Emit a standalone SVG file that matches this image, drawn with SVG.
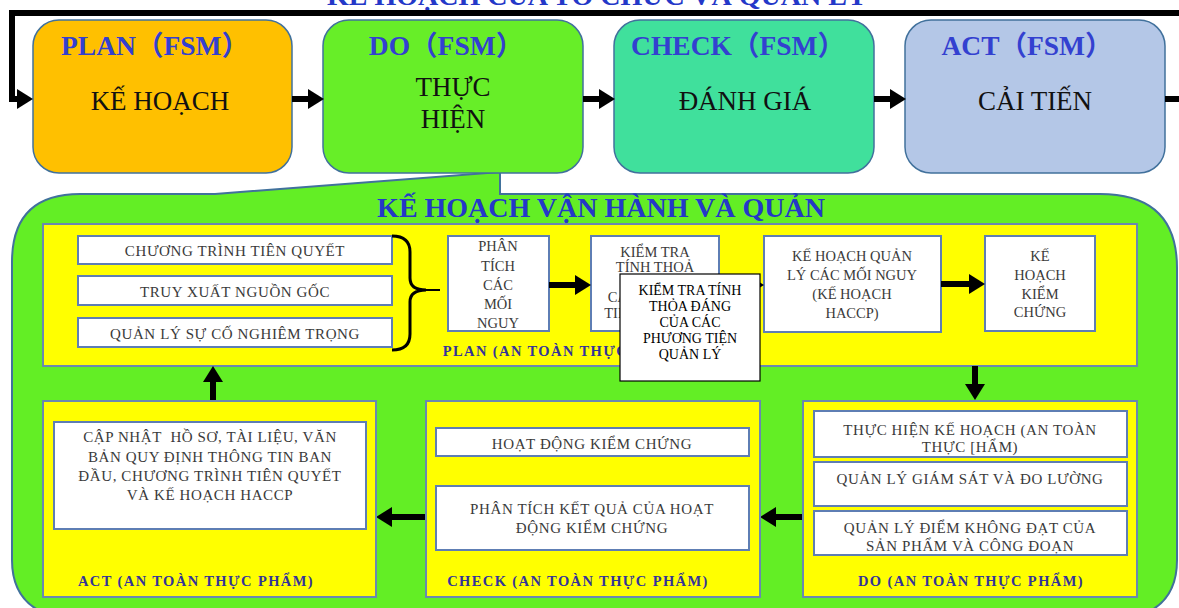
<svg xmlns="http://www.w3.org/2000/svg" width="1179" height="608" viewBox="0 0 1179 608">
<style>
text{font-family:'Liberation Serif','Noto Sans CJK SC',serif;text-anchor:middle}
.fsm{font-size:27.5px;font-weight:bold;fill:#3340D0}
.big{font-size:27px;fill:#111}
.ttl{font-size:28px;font-weight:bold;fill:#2438C8}
.wt{font-size:15px;fill:#3a3a3a;letter-spacing:0.6px}
.sm{font-size:14.5px;fill:#3a3a3a}
.lbl{font-size:14.5px;font-weight:bold;fill:#33339A;letter-spacing:1.4px}
.ov{font-size:14px;fill:#000}
.top{stroke:#41719C;stroke-width:1.5}
.panel{fill:#FFFF00;stroke:#6A88B0;stroke-width:2}
.wb{fill:#fff;stroke:#5E7EB4;stroke-width:2}
.ln{stroke:#000;stroke-width:6;fill:none}
</style>
<defs>
<marker id="ah" markerUnits="userSpaceOnUse" markerWidth="16" markerHeight="20" refX="0" refY="10" orient="auto">
<path d="M0,0 L16,10 L0,20 Z" fill="#000"/>
</marker>
</defs>
<rect width="1179" height="608" fill="#fff"/>
<text class="ttl" x="597" y="5">KẾ HOẠCH CỦA TỔ CHỨC VÀ QUẢN LÝ</text>

<g id="callout">
<path d="M215,194 L500,172 L500,194 L1100,194 Q1177,194 1177,268 L1177,560 Q1177,598 1148,612 L42,612 Q12,598 12,560 L12,262 Q12,194 80,194 Z" fill="#63EE25" stroke="#41719C" stroke-width="2"/>
<text class="ttl" x="601" y="217">KẾ HOẠCH VẬN HÀNH VÀ QUẢN</text>
</g>

<g id="plan-fsm">
<rect class="top" x="33" y="20" width="259" height="153" rx="26" fill="#FFC000"/>
<text class="fsm" x="155" y="55">PLAN（FSM）</text>
<text class="big" x="160" y="110">KẾ HOẠCH</text>
</g>
<g id="do-fsm">
<rect class="top" x="323" y="20" width="260" height="153" rx="26" fill="#67EE28"/>
<text class="fsm" x="446" y="55">DO（FSM）</text>
<text class="big" x="453" y="96">THỰC</text>
<text class="big" x="453" y="128">HIỆN</text>
</g>
<g id="check-fsm">
<rect class="top" x="614" y="20" width="260" height="153" rx="26" fill="#40E09C"/>
<text class="fsm" x="738" y="55">CHECK（FSM）</text>
<text class="big" x="745" y="110">ĐÁNH GIÁ</text>
</g>
<g id="act-fsm">
<rect class="top" x="905" y="20" width="260" height="153" rx="26" fill="#B4C7E7"/>
<text class="fsm" x="1027" y="55">ACT（FSM）</text>
<text class="big" x="1035" y="110">CẢI TIẾN</text>
</g>

<g id="plan-panel">
<rect class="panel" x="43" y="224" width="1094" height="142"/>
</g>
<g id="prereq">
<rect class="wb" x="78" y="236" width="314" height="28"/>
<text class="wt" x="235" y="256">CHƯƠNG TRÌNH TIÊN QUYẾT</text>
</g>
<g id="trace">
<rect class="wb" x="78" y="276" width="314" height="29"/>
<text class="wt" x="235" y="297">TRUY XUẤT NGUỒN GỐC</text>
</g>
<g id="incident">
<rect class="wb" x="78" y="318" width="314" height="29"/>
<text class="wt" x="235" y="339">QUẢN LÝ SỰ CỐ NGHIÊM TRỌNG</text>
</g>
<g id="hazard">
<rect class="wb" x="448" y="236" width="101" height="95"/>
<text class="sm" x="498" y="251">PHÂN</text>
<text class="sm" x="498" y="271">TÍCH</text>
<text class="sm" x="498" y="290">CÁC</text>
<text class="sm" x="498" y="309">MỐI</text>
<text class="sm" x="498" y="328">NGUY</text>
</g>
<g id="verify-means">
<rect class="wb" x="591" y="236" width="128" height="95"/>
<text class="sm" x="655" y="257">KIỂM TRA</text>
<text class="sm" x="655" y="272">TÍNH THOẢ</text>
<text class="sm" x="655" y="302">CÁC PHƯƠNG</text>
<text class="sm" x="655" y="318">TIỆN QUẢN LÝ</text>
</g>
<g id="haccp">
<rect class="wb" x="764" y="236" width="177" height="96"/>
<text class="sm" x="852" y="261">KẾ HOẠCH QUẢN</text>
<text class="sm" x="852" y="280">LÝ CÁC MỐI NGUY</text>
<text class="sm" x="852" y="299">(KẾ HOẠCH</text>
<text class="sm" x="852" y="318">HACCP)</text>
</g>
<g id="verify-plan">
<rect class="wb" x="985" y="236" width="110" height="95"/>
<text class="sm" x="1040" y="261">KẾ</text>
<text class="sm" x="1040" y="280">HOẠCH</text>
<text class="sm" x="1040" y="299">KIỂM</text>
<text class="sm" x="1040" y="317">CHỨNG</text>
</g>
<text class="lbl" x="566" y="356">PLAN (AN TOÀN THỰC PHẨM)</text>

<g id="connectors">
<path class="ln" d="M1179,13 L12,13 L12,99 L17,99" marker-end="url(#ah)"/>
<line class="ln" x1="292" y1="99" x2="308" y2="99" marker-end="url(#ah)"/>
<line class="ln" x1="583" y1="99" x2="599" y2="99" marker-end="url(#ah)"/>
<line class="ln" x1="874" y1="99" x2="890" y2="99" marker-end="url(#ah)"/>
<line class="ln" x1="1165" y1="99" x2="1179" y2="99"/>
<path d="M392,236 Q410,236 410,252 L410,278 Q410,290 426,290 Q410,290 410,302 L410,334 Q410,350 392,350" fill="none" stroke="#000" stroke-width="3"/>
<line x1="425" y1="290" x2="440" y2="290" stroke="#000" stroke-width="2"/>
<line class="ln" x1="549" y1="285" x2="575" y2="285" marker-end="url(#ah)"/>
<line class="ln" x1="719" y1="285" x2="748" y2="285" marker-end="url(#ah)"/>
<line class="ln" x1="941" y1="284" x2="969" y2="284" marker-end="url(#ah)"/>
<line class="ln" x1="975" y1="366" x2="975" y2="384" marker-end="url(#ah)"/>
<line class="ln" x1="213" y1="401" x2="213" y2="382" marker-end="url(#ah)"/>
<line class="ln" x1="803" y1="517" x2="776" y2="517" marker-end="url(#ah)"/>
<line class="ln" x1="426" y1="517" x2="392" y2="517" marker-end="url(#ah)"/>
</g>

<g id="overlay">
<rect x="620" y="274" width="140" height="107" fill="#fff" stroke="#000" stroke-width="1.2"/>
<text class="ov" x="690" y="295">KIỂM TRA TÍNH</text>
<text class="ov" x="690" y="311">THỎA ĐÁNG</text>
<text class="ov" x="690" y="327">CỦA CÁC</text>
<text class="ov" x="690" y="343">PHƯƠNG TIỆN</text>
<text class="ov" x="690" y="359">QUẢN LÝ</text>
</g>

<g id="act-panel">
<rect class="panel" x="43" y="401" width="333" height="196"/>
<rect class="wb" x="54" y="422" width="312" height="107"/>
<text class="wt" x="210" y="442" xml:space="preserve">CẬP NHẬT  HỒ SƠ, TÀI LIỆU, VĂN</text>
<text class="wt" x="210" y="462">BẢN QUY ĐỊNH THÔNG TIN BAN</text>
<text class="wt" x="210" y="481">ĐẦU, CHƯƠNG TRÌNH TIÊN QUYẾT</text>
<text class="wt" x="210" y="500">VÀ KẾ HOẠCH HACCP</text>
<text class="lbl" x="196" y="586">ACT (AN TOÀN THỰC PHẨM)</text>
</g>
<g id="check-panel">
<rect class="panel" x="426" y="401" width="334" height="196"/>
<rect class="wb" x="436" y="428" width="313" height="28"/>
<text class="wt" x="592" y="449">HOẠT ĐỘNG KIỂM CHỨNG</text>
<rect class="wb" x="436" y="486" width="313" height="64"/>
<text class="wt" x="592" y="514">PHÂN TÍCH KẾT QUẢ CỦA HOẠT</text>
<text class="wt" x="592" y="533">ĐỘNG KIỂM CHỨNG</text>
<text class="lbl" x="578" y="586">CHECK (AN TOÀN THỰC PHẨM)</text>
</g>
<g id="do-panel">
<rect class="panel" x="803" y="401" width="334" height="196"/>
<rect class="wb" x="814" y="411" width="313" height="46"/>
<text class="wt" x="970" y="435">THỰC HIỆN KẾ HOẠCH (AN TOÀN</text>
<text class="wt" x="970" y="452">THỰC [HẨM)</text>
<rect class="wb" x="814" y="462" width="313" height="44"/>
<text class="wt" x="970" y="484">QUẢN LÝ GIÁM SÁT VÀ ĐO LƯỜNG</text>
<rect class="wb" x="814" y="511" width="313" height="44"/>
<text class="wt" x="970" y="533">QUẢN LÝ ĐIỂM KHÔNG ĐẠT CỦA</text>
<text class="wt" x="970" y="551">SẢN PHẨM VÀ CÔNG ĐOẠN</text>
<text class="lbl" x="971" y="586">DO (AN TOÀN THỰC PHẨM)</text>
</g>
</svg>
